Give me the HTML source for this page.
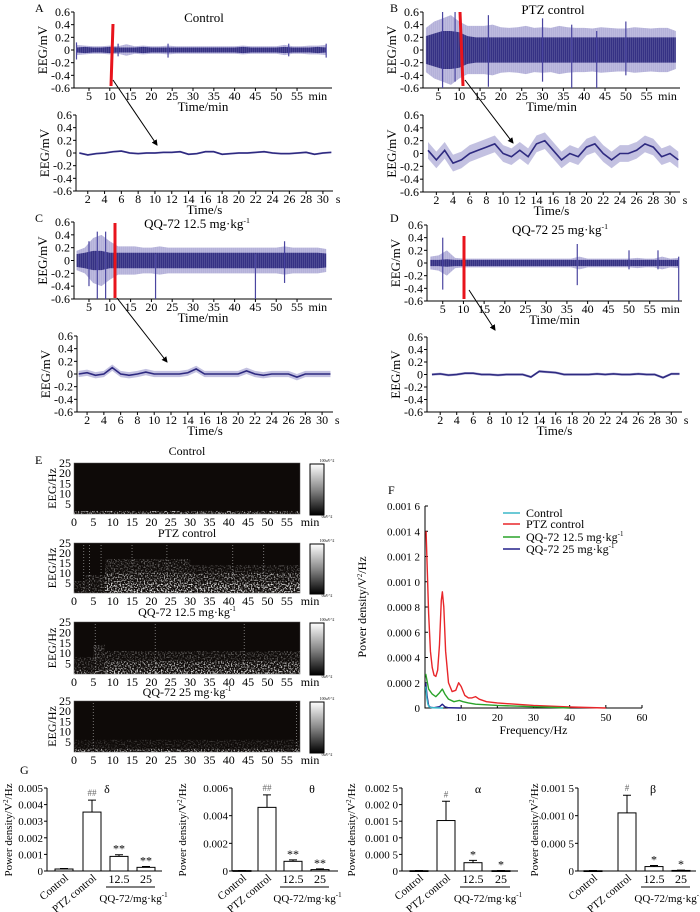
<!DOCTYPE html>
<html><head><meta charset="utf-8"><style>
html,body{margin:0;padding:0;background:#fff;}
svg{display:block;font-family:"Liberation Serif","Noto Serif CJK SC",serif;}
</style></head><body>
<svg id="fig" width="700" height="912" viewBox="0 0 700 912" xmlns="http://www.w3.org/2000/svg">
<defs>
<linearGradient id="cbar" x1="0" y1="0" x2="0" y2="1"><stop offset="0" stop-color="#fff"/><stop offset="0.5" stop-color="#888"/><stop offset="1" stop-color="#000"/></linearGradient>
<marker id="arr" markerWidth="6" markerHeight="6" refX="5" refY="3" orient="auto"><path d="M0,0 L6,3 L0,6 z" fill="#000"/></marker>
<filter id="speck" x="0" y="0" width="1" height="1"><feTurbulence type="fractalNoise" baseFrequency="0.7" numOctaves="1" seed="3"/><feColorMatrix type="matrix" values="0 0 0 0 1  0 0 0 0 1  0 0 0 0 1  0 0 0 4 -1.9"/><feComposite in2="SourceGraphic" operator="in"/></filter>
<pattern id="hatch" width="2" height="4" patternUnits="userSpaceOnUse"><rect width="1" height="4" fill="#fff" fill-opacity="0.12"/></pattern>
</defs>
<g id="root"></g>
</svg>
<script>
// ---------- DATA ----------
var minuteTimes=[2,4,6,8,10,12,14,16,18,20,22,24,26,28,30,32,34,36,38,40,42,44,46,48,50,52,54,56,58,60,62];
var ampAInner=[0.04,0.05,0.04,0.04,0.05,0.04,0.04,0.04,0.05,0.04,0.04,0.04,0.04,0.04,0.04,0.04,0.04,0.04,0.04,0.04,0.05,0.04,0.04,0.04,0.04,0.05,0.04,0.04,0.04,0.05,0.04];
var ampAOuter=[0.08,0.07,0.06,0.06,0.07,0.06,0.09,0.06,0.07,0.06,0.06,0.07,0.06,0.06,0.06,0.06,0.06,0.06,0.06,0.06,0.07,0.06,0.06,0.06,0.06,0.08,0.06,0.06,0.07,0.07,0.08];
var spikesA=[[2,0.12,-0.15],[12,0.1,-0.1],[24,0.1,-0.12],[53,0.1,-0.1],[62,0.1,-0.12]];
var ampBInner=[0.22,0.26,0.3,0.3,0.28,0.22,0.2,0.2,0.2,0.2,0.2,0.2,0.2,0.2,0.2,0.2,0.2,0.2,0.2,0.2,0.2,0.2,0.2,0.2,0.2,0.2,0.2,0.2,0.2,0.2,0.2];
var ampBOuter=[0.35,0.45,0.5,0.55,0.45,0.38,0.38,0.38,0.4,0.36,0.35,0.36,0.38,0.35,0.36,0.35,0.38,0.36,0.35,0.35,0.34,0.36,0.35,0.34,0.34,0.36,0.35,0.34,0.35,0.35,0.3];
var spikesB=[[6,0.6,-0.6],[9,0.6,-0.5],[17,0.55,-0.58],[30,0.5,-0.5],[37,0.4,-0.6],[43,0.3,-0.6],[50,0.45,-0.4]];
var ampCInner=[0.1,0.12,0.15,0.15,0.12,0.12,0.12,0.12,0.12,0.12,0.12,0.12,0.12,0.12,0.12,0.12,0.12,0.12,0.12,0.12,0.12,0.12,0.12,0.12,0.12,0.12,0.12,0.12,0.12,0.12,0.11];
var ampCOuter=[0.15,0.2,0.35,0.4,0.3,0.22,0.22,0.22,0.2,0.2,0.22,0.2,0.2,0.2,0.2,0.2,0.2,0.2,0.2,0.2,0.2,0.2,0.2,0.2,0.2,0.22,0.2,0.2,0.2,0.2,0.18];
var spikesC=[[5,0.3,-0.4],[7,0.45,-0.6],[9,0.45,-0.6],[21,0.1,-0.6],[45,0.1,-0.6],[52,0.3,-0.35]];
var ampDInner=[0.05,0.05,0.06,0.05,0.05,0.05,0.05,0.05,0.05,0.05,0.05,0.05,0.05,0.05,0.05,0.05,0.05,0.05,0.05,0.05,0.05,0.05,0.05,0.05,0.05,0.05,0.05,0.05,0.05,0.05,0.05];
var ampDOuter=[0.1,0.12,0.2,0.08,0.07,0.07,0.07,0.07,0.07,0.07,0.07,0.07,0.07,0.07,0.07,0.07,0.07,0.07,0.1,0.07,0.07,0.07,0.07,0.07,0.07,0.08,0.07,0.07,0.1,0.07,0.08];
var spikesD=[[5,0.4,-0.42],[37.5,0.3,-0.35],[50,0.2,-0.1],[57,0.2,-0.1],[62,0.1,-0.6]];
var secondTimes=[1,2,3,4,5,6,7,8,9,10,11,12,13,14,15,16,17,18,19,20,21,22,23,24,25,26,27,28,29,30,31];
var zoomA=[0,-0.03,-0.01,0,0.02,0.03,0,-0.01,0,0,0.01,0.01,0.02,-0.02,-0.01,0.02,0.02,-0.02,-0.01,0,0,0.01,0.02,0,-0.01,-0.01,0,0.01,-0.02,0,0.01];
var zoomB=[0.05,-0.1,0.05,-0.15,-0.1,0,0.05,0.1,0.15,0,-0.05,0.05,-0.05,0.15,0.2,0.05,-0.1,0,-0.05,0.1,0.15,0,-0.1,0,0,0.05,0.15,0.1,-0.05,0,-0.1];
var zoomC=[0,0.02,-0.02,0,0.1,0,-0.02,0,0.03,0,0,0,0,0.02,0.08,0,0,0,0,0,0.05,0,-0.02,0,0,0,-0.05,0,0,0,0];
var zoomD=[0,0.01,-0.01,0,0.02,0.02,0,0,-0.01,0,0,0,-0.04,0.05,0.04,0.03,0,0,0,0,0.01,0,0.01,0,0,0.01,0,0,-0.05,0.01,0.01];
var eegYTicks=[0.6,0.4,0.2,0,-0.2,-0.4,-0.6];
var eegYLabels=["0.6","0.4","0.2","0","-0.2","-0.4","-0.6"];
var minTicks=[5,10,15,20,25,30,35,40,45,50,55,60];
var minLabels=["5","10","15","20","25","30","35","40","45","50","55","min"];
var secTicks=[2,4,6,8,10,12,14,16,18,20,22,24,26,28,30,31.8];
var secLabels=["2","4","6","8","10","12","14","16","18","20","22","24","26","28","30","s"];
// spectrogram segments: [tStart, tEnd, fMax, brightness]
var specControl=[[0,58.4,1.5,0.8]];
var specPTZ=[[0,3,6,0.3],[3,8,9,0.35],[8,30,17,0.4],[8,58.4,10,0.5],[30,58.4,14,0.3],[8,58.4,5,0.7]];
var specQ12=[[0,5,8,0.3],[5,8,14,0.4],[8,58.4,11,0.35],[8,58.4,6,0.6],[0,58.4,2,0.5]];
var specQ25=[[0,58.4,1.5,0.7],[0,58.4,6,0.2]];
var linesPTZ=[2.5,4,7,15,24,41,49];
var linesQ12=[5.5,21,44];
var linesQ25=[5,57.5];
var specCtlLines=[], specFTicks=[5,10,15,20,25];
var specTTicks=[0,5,10,15,20,25,30,35,40,45,50,55,61];
var specTLabels=["0","5","10","15","20","25","30","35","40","45","50","55","min"];
// Panel F spectra
var freqPTZ=[0.3,1,1.5,2,2.5,3,3.5,4,4.5,4.8,5.2,5.7,6.5,7.5,8.5,9.3,10,11,12,13,14,15,17,20,25,30,40,50];
var valPTZ=[0.0014,0.00075,0.00045,0.00032,0.00026,0.00025,0.0003,0.0005,0.00085,0.00092,0.0008,0.00045,0.0002,0.00013,0.00014,0.0002,0.00017,0.0001,0.00008,0.00008,0.00009,0.00007,0.00005,0.00004,0.00003,0.00002,0.000008,0];
var freqQ12=[0.2,1,2,3,4,4.8,5.5,6.5,8,9.5,10.5,12,14,20,30,40];
var valQ12=[0.00027,0.00015,0.00011,0.00009,0.00012,0.00015,0.00011,0.00007,0.00005,0.00006,0.00005,0.00004,0.00003,0.00002,0.00001,0];
var freqQ25=[0.2,0.6,1,1.5,2.5,4,4.8,5.5,6.5,10];
var valQ25=[0.0002,0.00009,0.00002,0.000005,0.000002,0.00001,0.00003,0.00001,0.000002,0];
var freqCtl=[0.2,0.5,0.8,1.2,2,5];
var valCtl=[0.00017,0.00008,0.00003,0.000008,0.000002,0];
var fYTicks=[0,0.0002,0.0004,0.0006,0.0008,0.001,0.0012,0.0014,0.0016];
var fYLabels=["0","0.000 2","0.000 4","0.000 6","0.000 8","0.001 0","0.001 2","0.001 4","0.001 6"];
var fXTicks=[10,20,30,40,50,60];
// Panel G
var groups=["Control","PTZ control","12.5","25"];
var deltaMean=[0.00012,0.00355,0.00088,0.00022], deltaErr=[0.00003,0.00072,0.0001,0.00005];
var thetaMean=[0.00003,0.0046,0.0007,0.0001], thetaErr=[0.00001,0.0009,0.0001,0.00005];
var alphaMean=[0.00001,0.00152,0.00025,0.00001], alphaErr=[0.000005,0.00058,0.00007,0.000005];
var betaMean=[0.000005,0.00105,0.00008,0.00001], betaErr=[0.000003,0.00032,0.00002,0.000005];
var deltaTicks=[0,0.001,0.002,0.003,0.004,0.005], deltaLabels=["0","0.001","0.002","0.003","0.004","0.005"];
var thetaTicks=[0,0.002,0.004,0.006], thetaLabels=["0","0.002","0.004","0.006"];
var alphaTicks=[0,0.0005,0.001,0.0015,0.002,0.0025], alphaLabels=["0","0.000 5","0.001 0","0.001 5","0.002 0","0.002 5"];
var betaTicks=[0,0.0005,0.001,0.0015], betaLabels=["0","0.000 5","0.001 0","0.001 5"];

// ---------- HELPERS ----------
var NS="http://www.w3.org/2000/svg", root=document.getElementById('root');
function el(tag,attrs,parent,txt){var e=document.createElementNS(NS,tag);for(var k in attrs)e.setAttribute(k,attrs[k]);if(txt!==undefined)e.textContent=txt;(parent||root).appendChild(e);return e;}
function lin(d0,d1,r0,r1){return function(v){return r0+(v-d0)*(r1-r0)/(d1-d0);};}
function grp(name,parent){var g=el('g',{},parent);return g;}
function txt(g,x,y,s,size,anchor,name,extra){var t=el('text',{x:x,y:y,'font-size':size,'text-anchor':anchor||'middle',fill:'#000'},g,s);if(extra)for(var k in extra)t.setAttribute(k,extra[k]);return t;}
function mgkg(g,x,y,prefix,size,name){var t=el('text',{x:x,y:y,'font-size':size,'text-anchor':'middle'},g);el('tspan',{},t,prefix+' mg·kg');el('tspan',{dy:-5,'font-size':size*0.6},t,'-1');return t;}

function eegAxes(g,x0,x1,yT,yB,tmin,tmax,ticks,labels,xtitle){
  var sx=lin(tmin,tmax,x0,x1), sy=lin(0.6,-0.6,yT,yB);
  var ax=el('path',{d:'M'+x0+','+yT+' V'+yB+' H'+x1,fill:'none',stroke:'#000','stroke-width':1},g);
  
  eegYTicks.forEach(function(v,i){var y=sy(v);el('line',{x1:x0-3,x2:x0,y1:y,y2:y,stroke:'#000'},g);txt(g,x0-4,y+4,eegYLabels[i],12,'end','y-tick-label');});
  ticks.forEach(function(v,i){var x=sx(v);if(labels[i]!=='min'&&labels[i]!=='s')el('line',{x1:x,x2:x,y1:yB,y2:yB+3,stroke:'#000'},g);txt(g,x,yB+12,labels[i],12,'middle','x-tick-label');});
  txt(g,(x0+x1)/2,yB+23,xtitle,13,'middle','x-axis-title');
  txt(g,x0-27,(yT+yB)/2,'EEG/mV',13,'middle','y-axis-title',{transform:'rotate(-90 '+(x0-27)+' '+((yT+yB)/2)+')'});
  return {sx:sx,sy:sy};
}
function band(g,s,times,amp,color,op,name,hatch){
  var up=times.map(function(t,i){return s.sx(t)+','+s.sy(amp[i]);});
  var dn=times.map(function(t,i){return s.sx(t)+','+s.sy(-amp[i]);}).reverse();
  var pts=up.concat(dn).join(' ');
  var p=el('polygon',{points:pts,fill:color,'fill-opacity':op},g);
  
  if(hatch){var h=el('polygon',{points:pts,fill:'url(#hatch)'},g);}
}
function eegTop(name,x0,x1,yT,yB,tmin,tmax,inner,outer,spikes){
  var g=grp(name);
  var s=eegAxes(g,x0,x1,yT,yB,tmin,tmax,minTicks,minLabels,'Time/min');
  band(g,s,minuteTimes,outer,'#9b97cc',0.75,'trace-envelope-outer',true);
  band(g,s,minuteTimes,inner,'#2e2a80',0.95,'trace-envelope-inner',true);
  spikes.forEach(function(sp){var l=el('line',{x1:s.sx(sp[0]),x2:s.sx(sp[0]),y1:s.sy(sp[1]),y2:s.sy(sp[2]),stroke:'#4a45a0','stroke-width':1.2},g);});
  return s;
}
function eegZoom(name,x0,x1,yT,yB,tmin,tmax,vals,jit,light){
  var g=grp(name);
  var s=eegAxes(g,x0,x1,yT,yB,tmin,tmax,secTicks,secLabels,'Time/s');
  var up=secondTimes.map(function(t,i){return s.sx(t)+','+s.sy(vals[i]+jit);});
  var dn=secondTimes.map(function(t,i){return s.sx(t)+','+s.sy(vals[i]-jit);}).reverse();
  var p=el('polygon',{points:up.concat(dn).join(' '),fill:light,'fill-opacity':0.7},g);
  
  var pl=el('polyline',{points:secondTimes.map(function(t,i){return s.sx(t)+','+s.sy(vals[i]);}).join(' '),fill:'none',stroke:'#2e2a80','stroke-width':1.6},g);
  
}
function redMark(x1,y1,x2,y2){var l=el('line',{x1:x1,y1:y1,x2:x2,y2:y2,stroke:'#e8141c','stroke-width':3});}
function arrow(x1,y1,x2,y2){var l=el('line',{x1:x1,y1:y1,x2:x2,y2:y2,stroke:'#000','stroke-width':1,'marker-end':'url(#arr)'});}
function panelLetter(x,y,s){txt(root,x,y,s,12,'start','panel-label-'+s.toLowerCase());}

// ---------- A-D ----------
panelLetter(35,12,'A');panelLetter(390,12,'B');panelLetter(35,222,'C');panelLetter(390,222,'D');
eegTop('panel-a-overview',74,332,12,88,1.4,63.4,ampAInner,ampAOuter,spikesA);
txt(root,204,22,'Control',13,'middle','panel-a-title');
eegZoom('panel-a-zoom',76,333,115,191,0.6,31.2,zoomA,0.015,'#8f8bc4');
redMark(113,24,111,86);arrow(113,80,157,145);

eegTop('panel-b-overview',423,680,12,88,1.3,63,ampBInner,ampBOuter,spikesB);
txt(root,553,14,'PTZ control',13,'middle','panel-b-title');
eegZoom('panel-b-zoom',423,680,115,192,0.4,31.2,zoomB,0.13,'#aaa6d4');
redMark(460,12,463,86);arrow(465,80,513,143);

eegTop('panel-c-overview',74,332,222,299,1.4,63.4,ampCInner,ampCOuter,spikesC);
mgkg(root,197,228,'QQ-72 12.5',13,'panel-c-title');
eegZoom('panel-c-zoom',77,333,336,412,0.8,31.3,zoomC,0.05,'#aaa6d4');
redMark(115,223,115,298);arrow(117,298,167,362);

eegTop('panel-d-overview',427,682,225,301,1.2,62.8,ampDInner,ampDOuter,spikesD);
mgkg(root,560,234,'QQ-72 25',13,'panel-d-title');
eegZoom('panel-d-zoom',427,682,337,412,0.4,31.3,zoomD,0.02,'#8f8bc4');
redMark(464,236,464,299);arrow(469,290,495,330);

// ---------- E ----------
panelLetter(35,464,'E');
function spectro(name,title,titleY,yT,yB,segs,lines,isMg){
  var g=grp(name);
  var x0=74,x1=300, sx=lin(0,58.4,x0,x1), sy=lin(0,25,yB,yT);
  var bg=el('rect',{x:x0,y:yT,width:x1-x0,height:yB-yT,fill:'#0e0a08',stroke:'#555','stroke-width':0.5},g);
  
  segs.forEach(function(sg){var r=el('rect',{x:sx(sg[0]),y:sy(sg[2]),width:sx(sg[1])-sx(sg[0]),height:yB-sy(sg[2]),fill:'#d8d8d8','fill-opacity':sg[3],filter:'url(#speck)'},g);});
  lines.forEach(function(t){var l=el('line',{x1:sx(t),x2:sx(t),y1:yT+2,y2:yB,stroke:'#bbb','stroke-width':1,'stroke-dasharray':'1 2','stroke-opacity':0.6},g);});
  specFTicks.forEach(function(f){txt(g,x0-3,sy(f)+4,String(f),12,'end','y-tick-label');});
  specTTicks.forEach(function(t,i){txt(g,sx(t),yB+12,specTLabels[i],12,'middle','x-tick-label');});
  txt(g,56,(yT+yB)/2,'EEG/Hz',12,'middle','y-axis-title',{transform:'rotate(-90 56 '+((yT+yB)/2)+')'});
  if(isMg) mgkg(g,187,titleY,title,12,'spectrogram-title'); else txt(g,187,titleY,title,12,'middle','spectrogram-title');
  var cb=el('rect',{x:310,y:yT+1,width:14,height:yB-yT,fill:'url(#cbar)',stroke:'#000','stroke-width':1},g);
  
  txt(g,327,yT-1,'100uV^2',4,'middle','colorbar-max');txt(g,327,yB+4,'0uV^2',4,'middle','colorbar-min');
}
spectro('spectrogram-control','Control',455,463,514,specControl,specCtlLines,false);
spectro('spectrogram-ptz','PTZ control',537,543,593,specPTZ,linesPTZ,false);
spectro('spectrogram-qq72-12','QQ-72 12.5',616,622,674,specQ12,linesQ12,true);
spectro('spectrogram-qq72-25','QQ-72 25',696,701,752,specQ25,linesQ25,true);

// ---------- F ----------
panelLetter(388,494,'F');
(function(){
  var g=grp('panel-f-power-spectrum');
  var x0=425,x1=642,yT=506,yB=708, sx=lin(0,60,x0,x1), sy=lin(0,0.0016,yB,yT);
  var ax=el('path',{d:'M'+x0+','+yT+' V'+yB+' H'+x1,fill:'none',stroke:'#000'},g);
  fYTicks.forEach(function(v,i){el('line',{x1:x0,x2:x0+3,y1:sy(v),y2:sy(v),stroke:'#000'},g);txt(g,x0-5,sy(v)+4,fYLabels[i],11,'end','y-tick-label');});
  fXTicks.forEach(function(v){el('line',{x1:sx(v),x2:sx(v),y1:yB,y2:yB-3,stroke:'#000'},g);txt(g,sx(v),yB+13,String(v),11,'middle','x-tick-label');});
  txt(g,(x0+x1)/2,yB+26,'Frequency/Hz',12,'middle','x-axis-title');
  var yt=el('text',{x:0,y:0,'font-size':12,'text-anchor':'middle',transform:'translate(366 607) rotate(-90)'},g);
  el('tspan',{},yt,'Power density/V');el('tspan',{dy:-4,'font-size':7},yt,'2');el('tspan',{dy:4},yt,'/Hz');
  function curve(f,v,c,n){var p=el('polyline',{points:f.map(function(q,i){return sx(q)+','+sy(v[i]);}).join(' '),fill:'none',stroke:c,'stroke-width':1.4,'stroke-linejoin':'round'},g);}
  curve(freqPTZ,valPTZ,'#e8262a','series-ptz-control');
  curve(freqQ12,valQ12,'#2aa32a','series-qq72-12-5');
  curve(freqQ25,valQ25,'#24208a','series-qq72-25');
  curve(freqCtl,valCtl,'#3bb8c8','series-control');
  var leg=grp('legend',g);
  var items=[['Control','#3bb8c8',513,false],['PTZ control','#e8262a',524,false],['QQ-72 12.5','#2aa32a',537,true],['QQ-72 25','#24208a',549,true]];
  items.forEach(function(it){var l=el('line',{x1:503,x2:520,y1:it[2],y2:it[2],stroke:it[1],'stroke-width':1.5},leg);
    if(it[3]){var t=el('text',{x:526,y:it[2]+4,'font-size':12},leg);el('tspan',{},t,it[0]+' mg·kg');el('tspan',{dy:-5,'font-size':7},t,'-1');}
    else txt(leg,526,it[2]+4,it[0],12,'start','legend-entry');});
})();

// ---------- G ----------
panelLetter(20,774,'G');
function barChart(name,axisX,centers,axisEnd,means,errs,ticks,labels,ymax,sym,symX,sig,titleX){
  var g=grp(name);
  var yT=788,yB=871, sy=lin(0,ymax,yB,yT);
  var ax=el('path',{d:'M'+axisX+','+yT+' V'+yB+' H'+axisEnd,fill:'none',stroke:'#000'},g);
  ticks.forEach(function(v,i){el('line',{x1:axisX-3,x2:axisX,y1:sy(v),y2:sy(v),stroke:'#000'},g);txt(g,axisX-4,sy(v)+4,labels[i],11,'end','y-tick-label');});
  means.forEach(function(m,i){var cx=centers[i],w=18;
    var eb=el('path',{d:'M'+cx+','+sy(m)+' V'+sy(m+errs[i])+' M'+(cx-4)+','+sy(m+errs[i])+' H'+(cx+4),stroke:'#000',fill:'none'},g);
    var r=el('rect',{x:cx-w/2,y:sy(m),width:w,height:Math.max(yB-sy(m),0.8),fill:'#fff',stroke:'#000','stroke-width':1},g);
    if(sig[i]){var isHash=sig[i].indexOf('#')>=0;txt(g,cx,sy(m+errs[i])-(isHash?4:2),sig[i],isHash?9:12,'middle','significance-mark',{fill:isHash?'#666':'#000'});}
    if(i<2){txt(g,cx+5,879,groups[i],11,'end','x-category-label',{transform:'rotate(-40 '+(cx+5)+' 879)'});}
    else txt(g,cx,883,groups[i],12,'middle','x-category-label');
  });
  el('line',{x1:centers[2]-13,x2:centers[3]+9,y1:887,y2:887,stroke:'#000'},g);
  var q=el('text',{x:(centers[2]+centers[3])/2+1,y:902,'font-size':11,'text-anchor':'middle'},g);
  el('tspan',{},q,'QQ-72/mg·kg');el('tspan',{dy:-5,'font-size':7},q,'-1');
  txt(g,symX,793,sym,12,'middle','band-label');
  var yt=el('text',{x:0,y:0,'font-size':11,'text-anchor':'middle',transform:'translate('+titleX+' 830) rotate(-90)'},g);
  el('tspan',{},yt,'Power density/V');el('tspan',{dy:-4,'font-size':7},yt,'2');el('tspan',{dy:4},yt,'/Hz');
}
barChart('bar-chart-delta',47,[64,92,119,146],162,deltaMean,deltaErr,deltaTicks,deltaLabels,0.005,'δ',107,['','##','**','**'],12);
barChart('bar-chart-theta',232,[242,267,293,320],338,thetaMean,thetaErr,thetaTicks,thetaLabels,0.006,'θ',312,['','##','**','**'],186);
barChart('bar-chart-alpha',402,[419,446,473,501],518,alphaMean,alphaErr,alphaTicks,alphaLabels,0.0025,'α',478,['','#','*','*'],355);
barChart('bar-chart-beta',578,[593,627,654,681],696,betaMean,betaErr,betaTicks,betaLabels,0.0015,'β',653,['','#','*','*'],538);
</script>
</body></html>
